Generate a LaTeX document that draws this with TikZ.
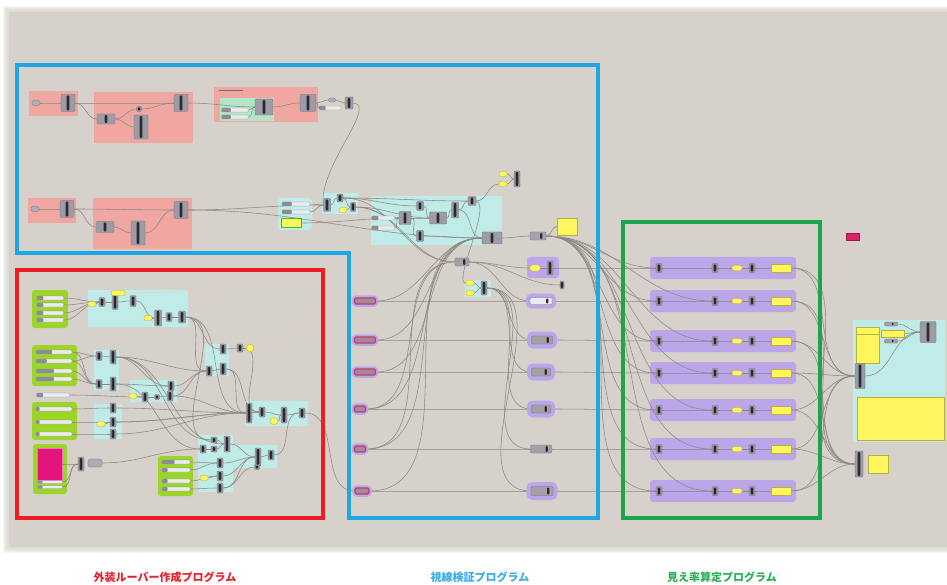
\documentclass[tikz,border=0pt]{standalone}
\usepackage{fontspec}
\newfontfamily\jpfont{Noto Sans CJK JP}
\usetikzlibrary{calc}
\pgfdeclarelayer{canvas}
\pgfdeclarelayer{grp}
\pgfdeclarelayer{wires}
\pgfdeclarelayer{fg}
\pgfsetlayers{canvas,grp,wires,main,fg}

\definecolor{canvasc}{HTML}{D6D2CB}
\definecolor{pinkg}{HTML}{F0A7A2}
\definecolor{cyang}{HTML}{BFEBE9}
\definecolor{tealg}{HTML}{B3E5C9}
\definecolor{limeg}{HTML}{9CD42A}
\definecolor{purpg}{HTML}{BBA6EA}
\definecolor{yel}{HTML}{FFF55C}
\definecolor{yeledge}{HTML}{B9B03A}
\definecolor{compgray}{HTML}{9D9BA5}
\definecolor{qgray}{HTML}{A3A0A8}
\definecolor{compedge}{HTML}{6E6C75}
\definecolor{compbar}{HTML}{2B2A2E}
\definecolor{wirec}{HTML}{8C8780}
\definecolor{faintc}{HTML}{E8C9C4}
\definecolor{slwhite}{HTML}{ECECEE}
\definecolor{slgray}{HTML}{8D8B93}
\definecolor{paramc}{HTML}{A9AFBA}
\definecolor{capgray}{HTML}{A08C98}
\definecolor{capred}{HTML}{C8386A}
\definecolor{pinkrect}{HTML}{E3157B}
\definecolor{hotpink}{HTML}{E0206E}
\definecolor{frblue}{HTML}{1EA7E4}
\definecolor{frred}{HTML}{EE1D23}
\definecolor{frgreen}{HTML}{18A74B}
\definecolor{labred}{HTML}{E8202A}
\definecolor{labblue}{HTML}{3AADE6}
\definecolor{labgreen}{HTML}{2DAE55}
\definecolor{panelgreen}{HTML}{3BBF1F}

\tikzset{
  comp/.style={draw=compedge, fill=compgray, line width=0.35pt, rounded corners=1pt, inner sep=0pt,
    path picture={\fill[compbar] ([xshift=-1.3pt,yshift=-1pt]path picture bounding box.north)
      rectangle ([xshift=1.3pt,yshift=1pt]path picture bounding box.south);}},
  qcomp/.style={draw=compedge, fill=qgray, line width=0.35pt, rounded corners=1pt, inner sep=0pt,
    path picture={\fill[compbar] ([xshift=-6pt,yshift=-1pt]path picture bounding box.north east)
      rectangle ([xshift=-3.6pt,yshift=1pt]path picture bounding box.south east);}},
  halo/.style={preaction={draw=purpg, line width=#1, line join=round}},
  halo/.default=9pt,
  ypill/.style={fill=yel, draw=yeledge, line width=0.35pt, rounded corners=2pt, inner sep=0pt},
  ybox/.style={fill=yel, draw=yeledge, line width=0.5pt, inner sep=0pt},
  sld/.style={fill=slwhite, draw=slgray, line width=0.3pt, rounded corners=1pt, inner sep=0pt,
    path picture={\fill[slgray] (path picture bounding box.south west) rectangle
      ($(path picture bounding box.north west)!#1!(path picture bounding box.north east)$);}},
  sld/.default=0.35,
  param/.style={fill=paramc, draw=compedge, line width=0.3pt, rounded corners=1.5pt, inner sep=0pt},
  pcap/.style={fill=capgray, draw=capred, line width=1.1pt, rounded corners=1.5pt, inner sep=0pt,
    preaction={draw=purpg, line width=5.5pt, line join=round}},
  wire/.style={draw=wirec, line width=0.55pt},
  faint/.style={draw=faintc, line width=0.5pt, opacity=0.6},
  frame/.style={line width=3.2pt},
  lab/.style={font=\jpfont\bfseries\fontsize{11}{13}\selectfont, inner sep=0pt}
}

\newcommand\gcmp[5]{\node[comp,minimum width=#4pt,minimum height=#5pt] (#1) at (#2,#3) {};}
\newcommand\gypl[5]{\node[ypill,minimum width=#4pt,minimum height=#5pt] (#1) at (#2,#3) {};}
\newcommand\gsld[6][0.35]{\node[sld=#1,minimum width=#5pt,minimum height=#6pt] (#2) at (#3,#4) {};}
\newcommand\gw[2]{\draw[wire] (#1.east) to[out=0,in=180] (#2.west);}
\newcommand\grp[5]{\begin{pgfonlayer}{grp}\fill[#1] (#2,#3) rectangle (#4,#5);\end{pgfonlayer}}

\begin{document}
\begin{tikzpicture}[x=1pt,y=-1pt]
\useasboundingbox (0,0) rectangle (947,585);

% ---------- canvas with soft edge ----------
\begin{pgfonlayer}{canvas}
  \fill[white] (0,0) rectangle (947,585);
  \foreach \d in {6,5,4,3,2,1}
    \fill[canvasc, opacity=0.22] (9-\d,12-\d) rectangle (947,547+\d);
  \fill[canvasc] (9,12) rectangle (947,547);
\end{pgfonlayer}

% ---------- upper chain 1 ----------
\grp{pinkg}{29}{91}{78}{116}
\node[param,minimum width=8pt,minimum height=5pt] (t1in) at (36,103) {};
\gcmp{t1a}{68}{103}{14}{17}
\grp{pinkg}{94}{92}{193}{143}
\gcmp{t1b}{106}{119}{18}{10}
\gcmp{t1c}{139}{109}{5}{5}
\gcmp{t1d}{141}{127}{14}{24}
\gcmp{t1e}{181}{103}{14}{17}
\grp{pinkg}{214}{87}{318}{122}
\begin{pgfonlayer}{grp}\fill[black!55] (219,89.6) rectangle (243,91.4);\end{pgfonlayer}
\grp{tealg}{220}{98}{274}{121}
\gsld{t1s1}{235}{110}{27}{4}
\gsld{t1s2}{235}{117}{27}{4}
\gcmp{t1f}{264}{107}{18}{16}
\gcmp{t1g}{308}{103}{16}{17}
\node[param,minimum width=7pt,minimum height=4pt] (t1h) at (332,100) {};
\gsld[0.3]{t1i}{330}{108}{22}{4}
\gcmp{t1j}{349}{103}{8}{12}

% ---------- upper chain 2 ----------
\grp{pinkg}{28}{198}{76}{223}
\node[param,minimum width=8pt,minimum height=5pt] (t2in) at (35,209) {};
\gcmp{t2a}{67}{209}{14}{17}
\grp{pinkg}{93}{198}{192}{249}
\gcmp{t2b}{105}{227}{18}{11}
\gcmp{t2c}{138}{233}{14}{24}
\gcmp{t2d}{181}{210}{14}{17}

% panel group
\begin{pgfonlayer}{grp}\fill[cyang, rounded corners=3pt] (278,198) rectangle (312,230);\end{pgfonlayer}
\gsld{p1}{296}{204}{28}{4}
\gsld{p2}{296}{212}{28}{4}
\node[fill=yel, draw=panelgreen, line width=1.6pt, inner sep=0pt, minimum width=20pt, minimum height=9pt] (ypanel) at (291.5,223) {};

% small group and large group
\grp{cyang}{322}{193}{358}{214}
\gcmp{r2a}{327}{205}{7}{13}
\gcmp{r2b}{340}{198}{6}{8}
\gypl{r2c}{343}{210}{8}{5}
\gcmp{r2d}{353}{207}{5}{9}
\grp{cyang}{371}{196}{502}{245}
\gsld[0.3]{r3s1}{383}{218}{23}{4}
\gsld[0.3]{r3s2}{383}{228}{23}{4}
\gcmp{r3a}{405}{218}{12}{13}
\gcmp{r3b}{420}{206}{7}{9}
\gcmp{r3c}{420}{236}{7}{11}
\gcmp{r3d}{438}{218}{17}{12}
\gcmp{r3e}{455}{210}{7}{16}
\gcmp{r3f}{472}{201}{8}{9}
\gcmp{r3h}{492}{238}{20}{12}
\gypl{r4a}{503}{174}{8}{5}
\gypl{r4b}{503}{184}{8}{5}
\gcmp{r4c}{517}{179}{6}{16}
\node[qcomp, fill=qgray!85!purpg, minimum width=16pt, minimum height=8pt] (r5) at (538,236) {};
\node[ybox, minimum width=20pt, minimum height=17pt] (r5y) at (567,226.5) {};
\node[qcomp, minimum width=14pt, minimum height=8pt] (r6) at (462,262) {};
\grp{cyang}{465}{280}{491}{297}
\gypl{r7a}{470}{283}{8}{5}
\gypl{r7b}{470}{293}{8}{5}
\gcmp{r7c}{484}{288}{6}{14}
\begin{pgfonlayer}{grp}\fill[purpg, rounded corners=3pt] (527,257) rectangle (559,278);\end{pgfonlayer}
\gypl{r8a}{535}{268}{10}{6}
\gcmp{r8b}{550}{268}{6}{14}
\gcmp{r9}{562}{285}{4}{8}
\node[qcomp, fill=slwhite, halo=8pt, minimum width=22pt, minimum height=7pt] (r10) at (541,301) {};

% vision caps and checkers
\node[pcap, minimum width=21pt, minimum height=6pt] (c1) at (365,301) {};
\node[pcap, minimum width=21pt, minimum height=6pt] (c2) at (365,340) {};
\node[pcap, minimum width=21pt, minimum height=6pt] (c3) at (365,372) {};
\node[pcap, minimum width=11pt, minimum height=6pt] (c4) at (360,409) {};
\node[pcap, minimum width=11pt, minimum height=6pt] (c5) at (360,449) {};
\node[pcap, minimum width=14pt, minimum height=6pt] (c6) at (362,491) {};
\node[qcomp, halo, minimum width=21pt, minimum height=8pt] (q2) at (542,340) {};
\node[qcomp, halo, minimum width=19pt, minimum height=8pt] (q3) at (541,372) {};
\node[qcomp, halo, minimum width=19pt, minimum height=8pt] (q4) at (541,409) {};
\node[qcomp, minimum width=21pt, minimum height=8pt] (q5) at (541,449) {};
\node[qcomp, halo, minimum width=22pt, minimum height=9pt] (q6) at (542,491) {};

% ---------- louver chain ----------
\begin{pgfonlayer}{grp}
  \fill[limeg, rounded corners=3pt] (32,290) rectangle (68,328);
  \fill[limeg, rounded corners=3pt] (32,345) rectangle (77,386);
  \fill[limeg, rounded corners=3pt] (32,402) rectangle (77,440);
  \fill[limeg, rounded corners=3pt] (33,444) rectangle (67,494);
  \fill[limeg, rounded corners=3pt] (158,456) rectangle (193,496);
  \fill[cyang] (88,290) rectangle (188,327);
  \fill[cyang] (205,344) rectangle (229,376);
  \fill[cyang] (94,350) rectangle (119,390);
  \fill[cyang] (130,380) rectangle (177,402);
  \fill[cyang] (94,404) rectangle (122,439);
  \fill[cyang] (245,401) rectangle (308,426);
  \fill[cyang] (198,435) rectangle (233,492);
  \fill[cyang] (233,445) rectangle (277,468);
\end{pgfonlayer}
\gsld[0.25]{a1}{50}{298}{27}{4}
\gsld[0.25]{a2}{50}{305}{27}{4}
\gsld[0.25]{a3}{50}{313}{27}{4}
\gsld[0.25]{a4}{50}{320}{27}{4}
\gypl{aA}{92}{304}{8}{5}
\gcmp{aB}{102}{302}{6}{9}
\gcmp{aC}{115}{302}{6}{15}
\gypl{aD}{118}{293}{14}{5}
\gcmp{aE}{133}{301}{6}{11}
\gypl{aF}{148}{318}{8}{5}
\gcmp{aG}{158}{318}{7}{16}
\gcmp{aH}{169}{317}{6}{9}
\gcmp{aI}{182}{317}{7}{12}
\gcmp{bA}{223}{349}{6}{10}
\gcmp{bB}{209}{371}{6}{10}
\gcmp{bC}{223}{369}{6}{12}
\gcmp{bD}{240}{348}{6}{8}
\node[ypill, rounded corners=3.5pt, minimum width=8pt, minimum height=7pt] (bE) at (250,348) {};
\gsld[0.45]{b1}{54}{352}{36}{4}
\gsld[0.3]{b2}{54}{361}{36}{4}
\gsld[0.5]{b3}{54}{371}{36}{4}
\gsld[0.5]{b4}{54}{379}{36}{4}
\gcmp{cA}{99}{356}{6}{9}
\gcmp{cB}{113}{357}{6}{14}
\gcmp{cC}{99}{384}{6}{9}
\gcmp{cD}{113}{384}{6}{14}
\gsld[0.2]{s0}{53}{395}{33}{4}
\gypl{dA}{133}{396}{8}{5}
\gcmp{dB}{145}{397}{6}{10}
\gcmp{dC}{157}{397}{5}{5}
\gcmp{dD}{171}{386}{6}{10}
\gcmp{dE}{170}{396}{6}{10}
\gsld[0.1]{e1}{54}{409}{36}{4}
\gsld[0.1]{e2}{54}{422}{36}{4}
\gsld[0.1]{e3}{54}{434}{36}{4}
\gcmp{eA}{113}{408}{6}{10}
\gcmp{eB}{113}{422}{6}{10}
\gcmp{eC}{113}{434}{6}{10}
\gypl{eD}{101}{424}{8}{5}
\gcmp{fA}{249}{413}{6}{20}
\gcmp{fB}{262}{412}{6}{10}
\gcmp{fC}{284}{415}{6}{16}
\node[ypill, rounded corners=3.5pt, minimum width=8pt, minimum height=7pt] (fD) at (274,421) {};
\gcmp{fE}{302}{413}{6}{10}
\node[fill=pinkrect, draw=pinkrect!60!white, line width=0.6pt, inner sep=0pt, minimum width=25pt, minimum height=32pt] (pr) at (49.5,464) {};
\gsld[0.2]{d1}{50}{482}{25}{3}
\gsld[0.2]{d2}{50}{487}{25}{3}
\gcmp{hA}{81}{464}{6}{14}
\node[param, fill=compgray!85!white, minimum width=14pt, minimum height=8pt] (hB) at (95,463) {};
\gsld[0.45]{m1}{176}{462}{28}{4}
\gsld[0.2]{m2}{176}{470}{28}{4}
\gsld[0.2]{m3}{176}{481}{28}{4}
\gsld[0.2]{m4}{176}{489}{28}{4}
\gcmp{iA}{214}{440}{6}{6}
\gcmp{iB}{227}{444}{6}{16}
\gcmp{iC}{203}{449}{6}{8}
\gcmp{iD}{214}{449}{6}{6}
\gcmp{iE}{220}{463}{6}{10}
\gcmp{iF}{220}{476}{6}{10}
\gcmp{iG}{220}{488}{6}{10}
\gypl{iH}{204}{478}{8}{5}
\gcmp{jA}{258}{457}{6}{18}
\gcmp{jB}{271}{455}{6}{10}
\gcmp{jC}{257}{467}{5}{5}

% ---------- visibility rows ----------
\foreach \i/\y in {1/268,2/301,3/341,4/373,5/410,6/449,7/491}{
  \begin{pgfonlayer}{grp}\fill[purpg, rounded corners=3pt] (650,\y-11) rectangle (796,\y+11);\end{pgfonlayer}
  \node[comp, minimum width=6pt, minimum height=9pt] (gA\i) at (659,\y) {};
  \node[comp, minimum width=6pt, minimum height=9pt] (gB\i) at (715,\y) {};
  \node[ypill, minimum width=10pt, minimum height=5pt] (gC\i) at (737,\y) {};
  \node[comp, minimum width=6pt, minimum height=9pt] (gD\i) at (752,\y) {};
  \node[ybox, minimum width=20pt, minimum height=8pt] (gE\i) at (781,\y) {};
}

% ---------- summary ----------
\node[fill=hotpink, draw=hotpink!70!black, line width=0.3pt, inner sep=0pt, minimum width=13pt, minimum height=7pt] (pk) at (853,236.5) {};
\grp{cyang}{853}{320}{945}{442}
\node[ybox, minimum width=23pt, minimum height=36pt] (y1) at (867.5,345) {};
\draw[yeledge, line width=0.6pt] (856.5,334) -- (878.5,334);
\node[ybox, minimum width=23pt, minimum height=7pt] (y2) at (892.5,333.5) {};
\node[qcomp, minimum width=13pt, minimum height=4pt] (k3) at (891,324) {};
\node[qcomp, minimum width=13pt, minimum height=4pt] (k4) at (891,341) {};
\gcmp{k5}{928}{332}{16}{21}
\gcmp{k1}{860}{376}{10}{25}
\node[ybox, minimum width=87pt, minimum height=43pt] (y3) at (900.5,418.5) {};
\gcmp{k2}{859}{464}{8}{26}
\node[ybox, minimum width=20pt, minimum height=18pt] (y4) at (878,464) {};

% ---------- connectors ----------
\begin{pgfonlayer}{wires}
  % upper chain 1
  \gw{t1in}{t1a} \gw{t1a}{t1e} \gw{t1a}{t1b} \gw{t1b}{t1c} \gw{t1b}{t1d}
  \gw{t1c}{t1e} \gw{t1e}{t1f} \gw{t1s1}{t1f} \gw{t1s2}{t1f} \gw{t1f}{t1g}
  \gw{t1g}{t1h} \gw{t1g}{t1i} \gw{t1h}{t1j}
  \draw[wire] (t1j.east) .. controls (378,105) and (318,168) .. (r2a.west);
  % upper chain 2
  \gw{t2in}{t2a} \gw{t2a}{t2d} \gw{t2a}{t2b} \gw{t2b}{t2c} \gw{t2c}{t2d}
  \gw{t2d}{r2a} \gw{t2d}{r3h} \gw{p1}{r2a} \gw{p2}{r2a} \gw{ypanel}{r3a}
  % sight line groups
  \gw{r2a}{r2b} \gw{r2c}{r2d} \gw{r2b}{r2d} \gw{r2b}{r3f} \gw{r2d}{r3a}
  \gw{r2d}{r3d} \gw{r2b}{r6} \gw{r2d}{r6} \gw{r2b}{r3b}
  \gw{r3s1}{r3a} \gw{r3s2}{r3a} \gw{r3a}{r3d} \gw{r3b}{r3d} \gw{r3a}{r3c}
  \gw{r3d}{r3e} \gw{r3e}{r3f} \gw{r3e}{r3h} \gw{r3c}{r3h}
  \gw{r4a}{r4c} \gw{r4b}{r4c} \gw{r3f}{r4b}
  \gw{r3h}{r5} \gw{r5}{r5y}
  \draw[wire] (r3f.east) .. controls (492,206) and (452,283) .. (r7a.west);
  \gw{r7a}{r7c} \gw{r7b}{r7c}
  \gw{r6}{r8a} \gw{r8a}{r8b} \gw{r6}{r9} \gw{r6}{r10}
  \foreach \i in {1,...,6}{\draw[wire] (c\i.east) to[out=0,in=180] (r3h.west);}
  \draw[wire] (r6.west) to[out=180,in=0] (c4.east);
  \draw[wire] (r6.west) to[out=180,in=0] (c5.east);
  \gw{c1}{r10} \gw{c2}{q2} \gw{c3}{q3} \gw{c4}{q4} \gw{c5}{q5} \gw{c6}{q6}
  \foreach \i in {2,...,6}{\gw{r7c}{q\i}}
  % visibility rows
  \foreach \i in {1,...,7}{
    \gw{r5}{gA\i}
    \gw{gA\i}{gB\i} \gw{gB\i}{gC\i} \gw{gC\i}{gD\i} \gw{gD\i}{gE\i}
    \gw{gE\i}{k1} \gw{gE\i}{k2}
  }
  \foreach \i in {2,...,7}{\gw{r5}{gB\i}}
  \gw{r8b}{gA1} \gw{r10}{gA2} \gw{q2}{gA3} \gw{q3}{gA4} \gw{q4}{gA5} \gw{q5}{gA6} \gw{q6}{gA7}
  \gw{k1}{k5} \gw{k3}{k5} \gw{k4}{k5} \gw{y2}{k5}
  % louver chain
  \gw{a1}{aB} \gw{a2}{aB} \gw{a3}{aB} \gw{a4}{aB} \gw{aA}{aB} \gw{aB}{aC}
  \gw{aC}{aE} \gw{aE}{aG} \gw{aF}{aG} \gw{aG}{aH} \gw{aH}{aI}
  \gw{aI}{bA} \gw{aI}{bB} \gw{aI}{fA} \gw{aI}{iA}
  \gw{bA}{bD} \gw{bD}{bE} \gw{bB}{bC} \gw{bC}{fA} \gw{bD}{fB} \gw{bC}{fB}
  \gw{b1}{cA} \gw{b2}{cA} \gw{b1}{cC} \gw{b2}{cC} \gw{b3}{cC} \gw{b4}{cC}
  \gw{cA}{cB} \gw{cC}{cD} \gw{cB}{bB} \gw{cB}{dD} \gw{cD}{dD} \gw{cB}{iA}
  \gw{cD}{iC} \gw{cB}{iB}
  \gw{s0}{dB} \gw{dA}{dB} \gw{dB}{dC} \gw{dC}{dE} \gw{dD}{bB} \gw{dE}{bB} \gw{dE}{fA}
  \gw{e1}{eA} \gw{e2}{eB} \gw{e3}{eC} \gw{eD}{eB} \gw{eA}{fA} \gw{eB}{fA} \gw{eC}{fA} \gw{eB}{fB}
  \gw{fA}{fB} \gw{fB}{fC} \gw{fD}{fC} \gw{fC}{fE} \gw{fE}{c6}
  \gw{d1}{hA} \gw{d2}{hA} \gw{pr}{hA} \gw{hB}{iC}
  \gw{m1}{iE} \gw{m2}{iE} \gw{m3}{iF} \gw{m4}{iG} \gw{iH}{iF}
  \gw{iC}{iD} \gw{iD}{iB} \gw{iA}{iB} \gw{iB}{jA} \gw{iE}{jA} \gw{iF}{jA} \gw{iG}{jA}
  \gw{iG}{jC} \gw{jA}{jB} \gw{jB}{fE}
  % faint hidden wires
  \draw[faint] (aD.east) to[out=0,in=180] (r6.west);
  \draw[faint] (bE.east) to[out=0,in=180] (c1.west);
  \draw[faint] (r5.east) to[out=0,in=180] (pk.west);
  \draw[faint] (pk.south) .. controls (845,280) and (800,320) .. (gE3.east);
\end{pgfonlayer}

% ---------- program frames and titles ----------
\begin{pgfonlayer}{fg}
  \draw[frame, frblue] (17,65) -- (598,65) -- (598,518) -- (349,518) -- (349,253) -- (17,253) -- cycle;
  \draw[frame, frred] (17,270) rectangle (323,518);
  \draw[frame, frgreen] (623,222) rectangle (820,518);
  \node[lab, text=labred] (lab1) at (165,577) {外装ルーバー作成プログラム};
  \node[lab, text=labblue] (lab2) at (480,577) {視線検証プログラム};
  \node[lab, text=labgreen] (lab3) at (722,577) {見え率算定プログラム};
\end{pgfonlayer}
\end{tikzpicture}
\end{document}
